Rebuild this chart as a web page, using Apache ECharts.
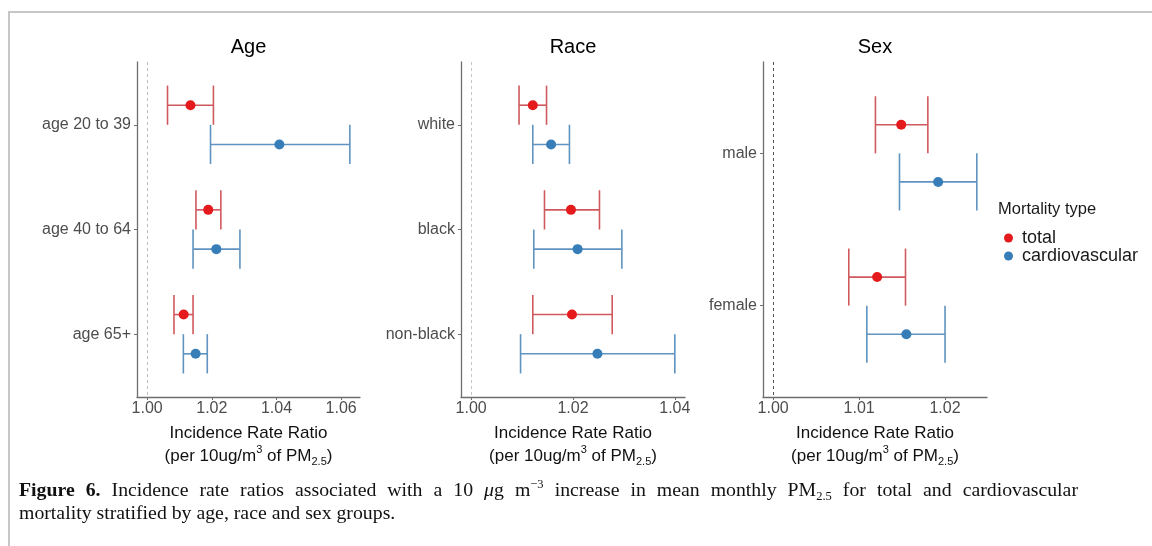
<!DOCTYPE html>
<html>
<head>
<meta charset="utf-8">
<script src="https://cdn.jsdelivr.net/npm/echarts@6/dist/echarts.min.js"></script>
<style>
html,body{margin:0;padding:0;background:#fff;width:1152px;height:546px;overflow:hidden;}
#frame{position:absolute;left:8px;top:11px;width:1200px;height:600px;border-top:2px solid #c6c6c6;border-left:2px solid #c6c6c6;}
#chart{position:absolute;left:0;top:0;width:1152px;height:546px;}
#cap{position:absolute;left:19px;top:478px;width:1059px;font-family:'Liberation Serif','DejaVu Serif',serif;font-size:19.8px;line-height:23px;color:#111;}
#cap .l1{text-align:justify;text-align-last:justify;white-space:nowrap;}
#cap .l2{text-align:left;white-space:nowrap;}
#cap sup,#cap sub{font-size:12.5px;line-height:0;position:relative;vertical-align:baseline;}
#cap sup{top:-8px;}
#cap sub{top:4px;}
</style>
</head>
<body>
<div id="frame"></div>
<div id="chart"></div>
<div id="cap"><div class="l1"><b>Figure 6.</b> Incidence rate ratios associated with a 10 <i>μ</i>g m<sup>−3</sup> increase in mean monthly PM<sub>2.5</sub> for total and cardiovascular</div><div class="l2">mortality stratified by age, race and sex groups.</div></div>
<script>
// ---- data ----
const seriesNames = ['total', 'cardiovascular'];
const panelTitles = ['Age', 'Race', 'Sex'];

const ageCats = ['age 20 to 39', 'age 40 to 64', 'age 65+'];
const ageTotal = [1.0134, 1.0189, 1.0113];
const ageTotalLo = [1.0063, 1.0151, 1.0083];
const ageTotalHi = [1.0205, 1.0228, 1.0142];
const ageCardio = [1.0409, 1.0214, 1.0150];
const ageCardioLo = [1.0196, 1.0142, 1.0112];
const ageCardioHi = [1.0627, 1.0287, 1.0186];
const ageTicks = [1.00, 1.02, 1.04, 1.06];

const raceCats = ['white', 'black', 'non-black'];
const raceTotal = [1.0121, 1.0196, 1.0198];
const raceTotalLo = [1.0094, 1.0144, 1.0121];
const raceTotalHi = [1.0148, 1.0252, 1.0277];
const raceCardio = [1.0157, 1.0209, 1.0248];
const raceCardioLo = [1.0121, 1.0123, 1.0097];
const raceCardioHi = [1.0193, 1.0296, 1.0400];
const raceTicks = [1.00, 1.02, 1.04];

const sexCats = ['male', 'female'];
const sexTotal = [1.0149, 1.0121];
const sexTotalLo = [1.0119, 1.0088];
const sexTotalHi = [1.0180, 1.0154];
const sexCardio = [1.0192, 1.0155];
const sexCardioLo = [1.0147, 1.0109];
const sexCardioHi = [1.0237, 1.0200];
const sexTicks = [1.00, 1.01, 1.02];

const refValue = 1.0;

// ---- layout / style ----
const RED = '#e41a1c', BLUE = '#377eb8';
const RED_BAR = '#d0595e', BLUE_BAR = '#5f93c0';
const DODGE = 0.1875, CAP = 0.1875;
const grids = [
  {left: 137, top: 62, width: 223, height: 335},
  {left: 461, top: 62, width: 224, height: 335},
  {left: 763, top: 62, width: 224, height: 335}
];
const refColors = ['#bdbdbd', '#c4c4c4', '#555555'];
const FONT = 'Liberation Sans, Arial, sans-serif';

const panels = [
  {cats: ageCats, t: ageTotal, tl: ageTotalLo, th: ageTotalHi, c: ageCardio, cl: ageCardioLo, ch: ageCardioHi, ticks: ageTicks},
  {cats: raceCats, t: raceTotal, tl: raceTotalLo, th: raceTotalHi, c: raceCardio, cl: raceCardioLo, ch: raceCardioHi, ticks: raceTicks},
  {cats: sexCats, t: sexTotal, tl: sexTotalLo, th: sexTotalHi, c: sexCardio, cl: sexCardioLo, ch: sexCardioHi, ticks: sexTicks}
];

function errRender(params, api) {
  const lo = api.value(0), hi = api.value(1), y = api.value(2);
  const p1 = api.coord([lo, y]), p2 = api.coord([hi, y]);
  const h = api.size([0, CAP])[1];
  const st = {stroke: api.visual('color'), lineWidth: 1.6};
  return {type: 'group', children: [
    {type: 'line', shape: {x1: p1[0], y1: p1[1], x2: p2[0], y2: p2[1]}, style: st},
    {type: 'line', shape: {x1: p1[0], y1: p1[1] - h, x2: p1[0], y2: p1[1] + h}, style: st},
    {type: 'line', shape: {x1: p2[0], y1: p2[1] - h, x2: p2[0], y2: p2[1] + h}, style: st}
  ]};
}

const axisName = '{n|Incidence Rate Ratio}\n{n|(per 10ug/m}{sup|3}{n| of PM}{sub|2.5}{n|)}';

const option = {
  animation: false,
  backgroundColor: 'transparent',
  grid: grids.map(g => Object.assign({containLabel: false}, g)),
  xAxis: [], yAxis: [], series: [],
  legend: {
    data: seriesNames.map(n => ({name: n, icon: 'circle'})),
    orient: 'vertical', left: 999, top: 224,
    itemWidth: 9, itemHeight: 9, itemGap: 0,
    textStyle: {fontSize: 18, color: '#1a1a1a', fontFamily: FONT, lineHeight: 18, padding: [0, 0, 0, 4]},
    selectedMode: false
  },
  graphic: []
};

panels.forEach((p, i) => {
  const all = p.tl.concat(p.th, p.cl, p.ch, [refValue]);
  const dmin = Math.min.apply(null, all), dmax = Math.max.apply(null, all);
  const pad = (dmax - dmin) * 0.05;
  option.xAxis.push({
    type: 'value', gridIndex: i, min: dmin - pad, max: dmax + pad,
    axisLine: {show: true, lineStyle: {color: '#6e6e6e', width: 1.3}},
    axisTick: {show: true, length: 3, customValues: p.ticks, lineStyle: {color: '#6e6e6e'}},
    axisLabel: {customValues: p.ticks, formatter: v => v.toFixed(2), fontSize: 16, color: '#4d4d4d', margin: 4, fontFamily: FONT},
    splitLine: {show: false},
    name: axisName, nameLocation: 'middle', nameGap: 16,
    nameTextStyle: {
      color: '#111', fontFamily: FONT, fontSize: 17, lineHeight: 23,
      rich: {
        n: {fontSize: 17, lineHeight: 23, color: '#111', fontFamily: FONT},
        sup: {fontSize: 11, lineHeight: 13, verticalAlign: 'top', color: '#111', fontFamily: FONT},
        sub: {fontSize: 11, lineHeight: 12, verticalAlign: 'bottom', color: '#111', fontFamily: FONT}
      }
    }
  });
  const pos = p.cats.map((c, k) => k + 1);
  option.yAxis.push({
    type: 'value', gridIndex: i, min: 0.4, max: p.cats.length + 0.6, inverse: true,
    axisLine: {show: true, lineStyle: {color: '#6e6e6e', width: 1.3}},
    axisTick: {show: true, length: 3, customValues: pos, lineStyle: {color: '#6e6e6e'}},
    axisLabel: {customValues: pos, formatter: v => p.cats[Math.round(v) - 1], fontSize: 16, color: '#4d4d4d', margin: 6, fontFamily: FONT},
    splitLine: {show: false}
  });
  option.series.push({
    type: 'custom', name: 'total CI', xAxisIndex: i, yAxisIndex: i, renderItem: errRender,
    itemStyle: {color: RED_BAR}, encode: {x: [0, 1], y: 2}, z: 2,
    data: p.cats.map((c, k) => [p.tl[k], p.th[k], k + 1 - DODGE])
  });
  option.series.push({
    type: 'custom', name: 'cardio CI', xAxisIndex: i, yAxisIndex: i, renderItem: errRender,
    itemStyle: {color: BLUE_BAR}, encode: {x: [0, 1], y: 2}, z: 2,
    data: p.cats.map((c, k) => [p.cl[k], p.ch[k], k + 1 + DODGE])
  });
  option.series.push({
    type: 'scatter', name: seriesNames[0], xAxisIndex: i, yAxisIndex: i, symbolSize: 10, z: 3,
    itemStyle: {color: RED, opacity: 1},
    data: p.cats.map((c, k) => [p.t[k], k + 1 - DODGE]),
    markLine: {silent: true, symbol: 'none', label: {show: false}, z: 1,
      lineStyle: {color: refColors[i], type: [3, 3], width: 1},
      data: [{xAxis: refValue}]}
  });
  option.series.push({
    type: 'scatter', name: seriesNames[1], xAxisIndex: i, yAxisIndex: i, symbolSize: 10, z: 3,
    itemStyle: {color: BLUE, opacity: 1},
    data: p.cats.map((c, k) => [p.c[k], k + 1 + DODGE])
  });
  const g = grids[i];
  option.graphic.push({
    type: 'text', x: g.left + g.width / 2, y: 47,
    style: {text: panelTitles[i], fontSize: 20, fill: '#000', align: 'center', verticalAlign: 'middle', fontFamily: FONT}
  });
});
option.graphic.push({
  type: 'text', x: 998, y: 209,
  style: {text: 'Mortality type', fontSize: 16.5, fill: '#1a1a1a', align: 'left', verticalAlign: 'middle', fontFamily: FONT}
});

const chart = echarts.init(document.getElementById('chart'), null, {renderer: 'canvas'});
chart.setOption(option);
</script>
</body>
</html>
